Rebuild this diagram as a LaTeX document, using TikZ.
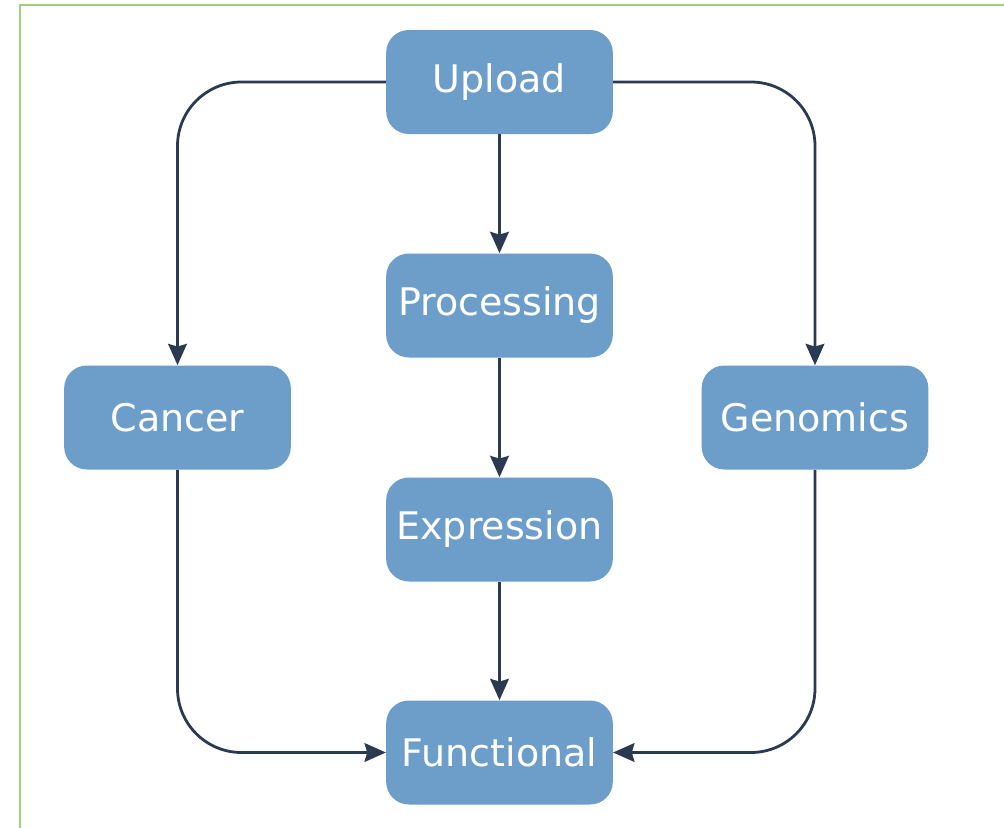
\documentclass[tikz,border=0pt]{standalone}
\usepackage{fontspec}
\setmainfont{DejaVu Sans}
\usetikzlibrary{arrows.meta,positioning}
\definecolor{boxblue}{RGB}{108,158,201}
\definecolor{linenavy}{RGB}{42,58,80}
\definecolor{framegreen}{RGB}{165,205,125}
\tikzset{font=\fontsize{28.5}{34}\selectfont}

\begin{document}
\begin{tikzpicture}[x=0.75pt,y=-0.75pt,
  stage/.style={fill=boxblue, text=white, rounded corners=17pt,
    minimum width=170pt, minimum height=78pt, inner sep=0pt},
  conn/.style={draw=linenavy, line width=2.1pt, rounded corners=48pt,
    -{Stealth[length=16pt,width=14pt,inset=2pt]}}]
  \useasboundingbox (0,0) rectangle (1004,828);
  \draw[framegreen, line width=1.4pt] (20,828) |- (1004,4.7);

  \node[stage] (upload) at (499.5,82) {Upload};
  \node[stage] (processing) at (499.5,305.5) {Processing};
  \node[stage] (expression) at (499.5,529.5) {Expression};
  \node[stage] (functional) at (499.5,752.5) {Functional};
  \node[stage] (cancer) at (177.5,417.5) {Cancer};
  \node[stage] (genomics) at (815,417.5) {Genomics};

  \draw[conn] (upload) -- (processing);
  \draw[conn] (processing) -- (expression);
  \draw[conn] (expression) -- (functional);
  \draw[conn] (upload.west) -| (cancer.north);
  \draw[conn] (upload.east) -| (genomics.north);
  \draw[conn] (cancer.south) |- (functional.west);
  \draw[conn] (genomics.south) |- (functional.east);
\end{tikzpicture}
\end{document}
